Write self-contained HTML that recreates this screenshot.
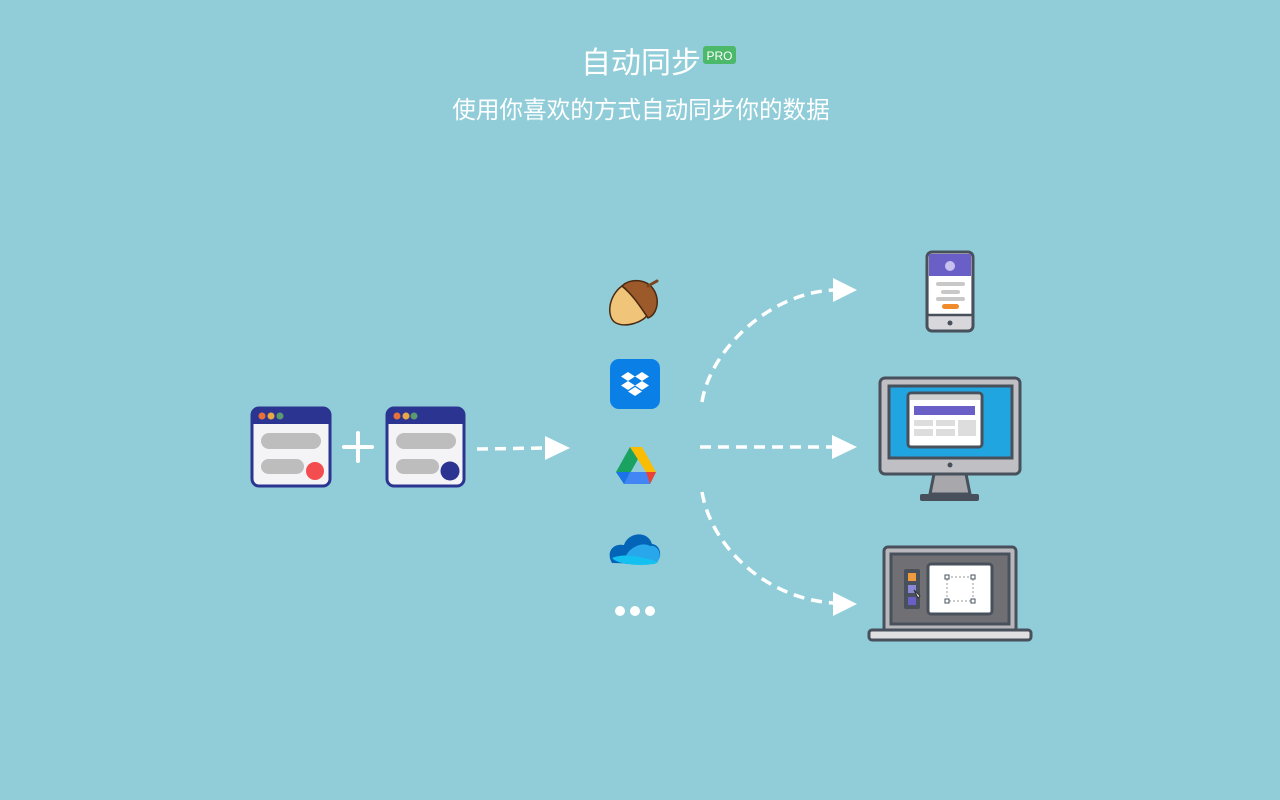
<!DOCTYPE html>
<html><head><meta charset="utf-8"><style>
html,body{margin:0;width:1280px;height:800px;background:#90cdd8;overflow:hidden;font-family:"Liberation Sans","Noto Sans CJK SC",sans-serif;}
svg{display:block}
</style></head><body>
<svg width="1280" height="800" viewBox="0 0 1280 800" xmlns="http://www.w3.org/2000/svg">
<rect width="1280" height="800" fill="#90cdd8"/>
<text x="641" y="73" fill="#fff" font-size="30" text-anchor="middle" font-family="Liberation Sans,Noto Sans CJK SC,sans-serif">自动同步</text>
<rect x="703" y="46" width="33" height="18" rx="3" fill="#4cb86a"/>
<text x="719.5" y="60" fill="#fff" font-size="12" text-anchor="middle" font-family="Liberation Sans,sans-serif">PRO</text>
<text x="641" y="118" fill="#fff" font-size="23.6" text-anchor="middle" font-family="Liberation Sans,Noto Sans CJK SC,sans-serif">使用你喜欢的方式自动同步你的数据</text>

<g>
<rect x="252" y="408" width="78" height="78" rx="7" fill="#f4f4f6" stroke="#2b3591" stroke-width="3"/>
<path d="M252 424 V415 a7 7 0 0 1 7-7 h64 a7 7 0 0 1 7 7 V424 Z" fill="#2b3591"/>
<circle cx="262" cy="416" r="3.5" fill="#e8703a"/><circle cx="271" cy="416" r="3.5" fill="#e9a844"/><circle cx="280" cy="416" r="3.5" fill="#5b9a6e"/>
<rect x="261" y="433" width="60" height="16" rx="8" fill="#bdbdbd"/>
<rect x="261" y="459" width="43" height="15" rx="7.5" fill="#bdbdbd"/>
<circle cx="315" cy="471" r="9" fill="#f44d4f"/>
</g>
<g>
<rect x="387" y="408" width="77" height="78" rx="7" fill="#f4f4f6" stroke="#2b3591" stroke-width="3"/>
<path d="M387 424 V415 a7 7 0 0 1 7-7 h63 a7 7 0 0 1 7 7 V424 Z" fill="#2b3591"/>
<circle cx="397" cy="416" r="3.5" fill="#e8703a"/><circle cx="406" cy="416" r="3.5" fill="#e9a844"/><circle cx="414" cy="416" r="3.5" fill="#5b9a6e"/>
<rect x="396" y="433" width="60" height="16" rx="8" fill="#bdbdbd"/>
<rect x="396" y="459" width="43" height="15" rx="7.5" fill="#bdbdbd"/>
<circle cx="450" cy="471" r="9.5" fill="#2b3591"/>
</g>
<path d="M344 447 H372 M358 433 V461" stroke="#fff" stroke-width="4" stroke-linecap="round"/>

<g stroke="#fff" stroke-width="3.5" fill="none" stroke-dasharray="11 7">
<path d="M477 449 L545 448"/>
<path d="M700 447 L832 447"/>
<path d="M702 402 C710 350 770 292 835 290"/>
<path d="M702 492 C712 550 770 600 835 603"/>
</g>
<g fill="#fff">
<path d="M545 436 L570 448 L545 460 Z"/>
<path d="M832 435 L857 447 L832 459 Z"/>
<path d="M833 278 L857 290 L833 302 Z"/>
<path d="M833 592 L857 604 L833 616 Z"/>
</g>

<!-- acorn -->
<g stroke="#4a2a10" stroke-width="1.5">
<path d="M622 286 C608 296 606 318 616 323 C626 328 644 322 648 314 C640 305 632 294 622 286 Z" fill="#f0c57a"/>
<path d="M622 286 C630 278 648 278 655 292 C660 303 656 315 648 318 C640 306 632 294 622 286 Z" fill="#9c5a2a"/>
<path d="M648 286 L657 281" stroke="#7a4620" stroke-width="3" stroke-linecap="round"/>
</g>
<rect x="610" y="359" width="50" height="50" rx="9" fill="#0a7fe6"/>
<g fill="#fff">
<path d="M628 372 l-7 4.5 7 4.5 7-4.5z"/><path d="M642 372 l-7 4.5 7 4.5 7-4.5z"/>
<path d="M628 381 l-7 4.5 7 4.5 7-4.5z"/><path d="M642 381 l-7 4.5 7 4.5 7-4.5z"/>
<path d="M635 387 l-7 4.5 7 4.5 7-4.5z"/>
</g>
<g>
<path d="M630 447 L616 472 L624 484 L638 459 Z" fill="#1aa260"/>
<path d="M630 447 L642 447 L656 472 L646 472 Z" fill="#fbbc04"/>
<path d="M624 484 L650 484 L656 472 L630 472 Z" fill="#4285f4"/>
<path d="M616 472 L624 484 L630 472 Z" fill="#1a73e8"/>
<path d="M656 472 L650 484 L646 472 Z" fill="#ea4335"/>
</g>
<g>
<path d="M612 563 C606 553 612 543 624 545 C628 532 648 530 652 544 C662 545 663 560 654 564 Z" fill="#0364b8"/>
<path d="M625 564 C622 552 640 540 650 546 C660 544 664 560 654 564 Z" fill="#28a8ea"/>
<path d="M612 558 C625 552 645 558 658 562 C655 566 620 567 612 558Z" fill="#14c0f0"/>
</g>
<circle cx="620" cy="611" r="5" fill="#fff"/><circle cx="635" cy="611" r="5" fill="#fff"/><circle cx="650" cy="611" r="5" fill="#fff"/>

<g>
<rect x="927" y="252" width="46" height="79" rx="5" fill="#d8d8dc" stroke="#47505b" stroke-width="3"/>
<rect x="929" y="254" width="42" height="22" fill="#6a5fc6"/>
<rect x="929" y="276" width="42" height="38" fill="#fff"/>
<path d="M928 315 H972" stroke="#47505b" stroke-width="2.5"/>
<circle cx="950" cy="266" r="5" fill="#c8c0ee"/>
<rect x="936" y="282" width="29" height="4" rx="2" fill="#c8c8c8"/>
<rect x="941" y="290" width="19" height="4" rx="2" fill="#c8c8c8"/>
<rect x="936" y="297" width="29" height="4" rx="2" fill="#c8c8c8"/>
<rect x="942" y="304" width="17" height="5" rx="2.5" fill="#f08a2a"/>
<circle cx="950" cy="323" r="2.5" fill="#47505b"/>
</g>
<g>
<path d="M934 474 L930 494 H970 L966 474 Z" fill="#a8a8ac" stroke="#47505b" stroke-width="3"/>
<rect x="920" y="494" width="59" height="7" rx="2" fill="#47505b"/>
<rect x="880" y="378" width="140" height="96" rx="5" fill="#c0c0c4" stroke="#47505b" stroke-width="3"/>
<rect x="889" y="386" width="123" height="72" fill="#20a5e0" stroke="#47505b" stroke-width="3"/>
<rect x="908" y="393" width="74" height="54" rx="3" fill="#fff" stroke="#47505b" stroke-width="3"/>
<rect x="910" y="395" width="70" height="5" fill="#d0d0d0"/>
<rect x="914" y="406" width="61" height="9" fill="#6a5fc6"/>
<rect x="914" y="420" width="19" height="6" fill="#ddd"/><rect x="936" y="420" width="19" height="6" fill="#ddd"/>
<rect x="914" y="429" width="19" height="7" fill="#ddd"/><rect x="936" y="429" width="19" height="7" fill="#ddd"/>
<rect x="958" y="420" width="18" height="16" fill="#ddd"/>
<circle cx="950" cy="465" r="2.5" fill="#47505b"/>
</g>
<g>
<rect x="884" y="547" width="132" height="85" rx="4" fill="#b8b8bc" stroke="#47505b" stroke-width="3"/>
<rect x="891" y="554" width="118" height="70" fill="#707074" stroke="#47505b" stroke-width="3"/>
<rect x="869" y="630" width="162" height="10" rx="3" fill="#e0e0e2" stroke="#47505b" stroke-width="3"/>
<rect x="904" y="569" width="16" height="40" rx="2" fill="#47505b"/>
<rect x="908" y="573" width="8" height="8" fill="#f09a40"/>
<rect x="908" y="585" width="8" height="8" fill="#8a88d6"/>
<rect x="908" y="597" width="8" height="8" fill="#6a5fc6"/>
<rect x="928" y="564" width="64" height="50" rx="3" fill="#fff" stroke="#47505b" stroke-width="3"/>
<rect x="947" y="577" width="26" height="24" fill="none" stroke="#aaa" stroke-width="1.2" stroke-dasharray="2 2"/>
<g fill="#fff" stroke="#47505b" stroke-width="1"><rect x="945" y="575" width="4" height="4"/><rect x="971" y="575" width="4" height="4"/><rect x="945" y="599" width="4" height="4"/><rect x="971" y="599" width="4" height="4"/></g>
<path d="M914 590 l6 6 -2 2z" fill="#fff" stroke="#333" stroke-width="1"/>
</g>
</svg>
</body></html>
